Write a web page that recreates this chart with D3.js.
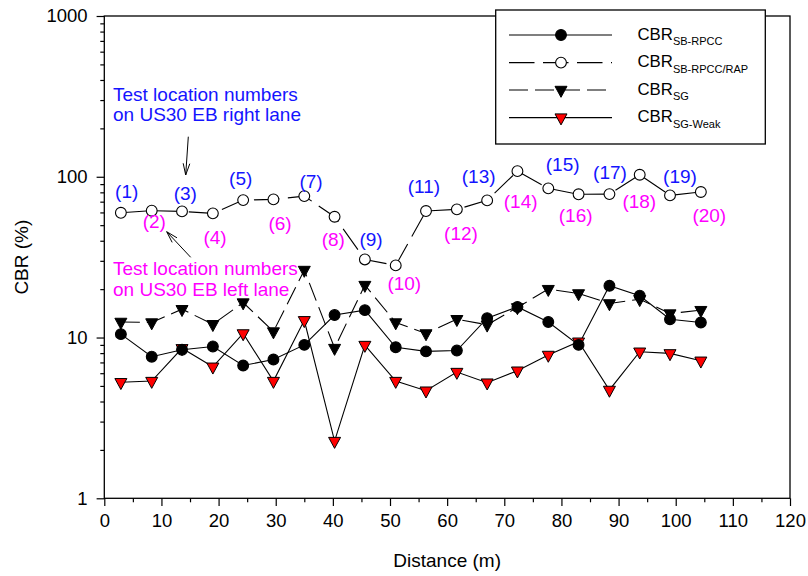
<!DOCTYPE html>
<html>
<head>
<meta charset="utf-8">
<script src="https://cdn.jsdelivr.net/npm/d3@7"></script>
<style>
  body { margin: 0; background: #fff; }
  svg { display: block; font-family: Arial, "Liberation Sans", sans-serif; }
</style>
</head>
<body>
<svg id="chart" width="808" height="576"></svg>
<script>
// ---------------- data ----------------
const distance = [2.9, 8.3, 13.6, 19.0, 24.3, 29.6, 35.0, 40.3, 45.6, 51.0,
                  56.3, 61.7, 67.0, 72.3, 77.7, 83.0, 88.4, 93.7, 99.0, 104.4];
const cbrSbRpcc    = [10.5, 7.6, 8.4, 8.8, 6.7, 7.3, 9.0, 13.8, 14.8, 8.7,
                      8.2, 8.3, 13.2, 15.5, 12.5, 9.0, 21.0, 18.2, 13.0, 12.4];
const cbrSbRpccRap = [59.7, 61.5, 60.9, 59.2, 71.6, 72.3, 75.8, 56.4, 30.6, 28.1,
                      61.2, 62.7, 71.3, 108.4, 84.7, 77.8, 78.0, 102.9, 76.6, 80.4];
const cbrSg        = [12.5, 12.4, 15.0, 12.1, 16.5, 10.9, 26.3, 8.6, 21.2, 12.4,
                      10.6, 13.0, 12.0, 15.4, 20.0, 18.8, 16.3, 17.3, 14.1, 14.8];
const cbrSgWeak    = [5.27, 5.36, 8.57, 6.58, 10.6, 5.36, 12.8, 2.27, 8.98, 5.36,
                      4.67, 6.10, 5.24, 6.22, 7.79, 9.42, 4.72, 8.16, 7.97, 7.17];
const xTicks = [0, 10, 20, 30, 40, 50, 60, 70, 80, 90, 100, 110, 120];
const yTicks = [1, 10, 100, 1000];
const locationLabels = ["(1)","(2)","(3)","(4)","(5)","(6)","(7)","(8)","(9)","(10)",
                        "(11)","(12)","(13)","(14)","(15)","(16)","(17)","(18)","(19)","(20)"];
const legendNames = ["SB-RPCC", "SB-RPCC/RAP", "SG", "SG-Weak"];

// ---------------- layout ----------------
const svg = d3.select("#chart");
const L = 104.3, R = 790, T = 16, B = 498.3;
const x = d3.scaleLinear().domain([0, 120]).range([L, R]);
const y = d3.scaleLog().domain([1, 1000]).range([B, T]);
const BLUE = "#1414ff", MAG = "#ff00ff";
const FS = 19, TFS = 18.5;
const FF = "Arial, 'Liberation Sans', sans-serif";

// axes
const minorX = d3.range(5, 120, 10);
const minorY = [];
[1, 10, 100].forEach(p => { for (let k = 2; k <= 9; k++) minorY.push(k * p); });

const gx = svg.append("g").attr("transform", `translate(0,${B})`)
  .call(d3.axisBottom(x).tickValues(xTicks).tickSize(7.7).tickPadding(8).tickFormat(d3.format("d")));
gx.select(".domain").remove();
gx.selectAll("text").attr("font-size", TFS).attr("font-family", FF).attr("fill", "#000");
gx.selectAll("line").attr("stroke", "#000").attr("stroke-width", 1.2);
const gxm = svg.append("g").attr("transform", `translate(0,${B})`)
  .call(d3.axisBottom(x).tickValues(minorX).tickSize(4).tickFormat(""));
gxm.select(".domain").remove();
gxm.selectAll("line").attr("stroke", "#000").attr("stroke-width", 1.2);

const gy = svg.append("g").attr("transform", `translate(${L},0)`)
  .call(d3.axisLeft(y).tickValues(yTicks).tickSize(7.7).tickPadding(9).tickFormat(d3.format("d")));
gy.select(".domain").remove();
gy.selectAll("text").attr("font-size", TFS).attr("font-family", FF).attr("fill", "#000");
gy.selectAll("line").attr("stroke", "#000").attr("stroke-width", 1.2);
const gym = svg.append("g").attr("transform", `translate(${L},0)`)
  .call(d3.axisLeft(y).tickValues(minorY).tickSize(4).tickFormat(""));
gym.select(".domain").remove();
gym.selectAll("line").attr("stroke", "#000").attr("stroke-width", 1.2);

// frame
svg.append("rect").attr("x", L).attr("y", T).attr("width", R - L).attr("height", B - T)
  .attr("fill", "none").attr("stroke", "#000").attr("stroke-width", 1.3);

// axis titles
svg.append("text").attr("x", (L + R) / 2).attr("y", 567).attr("text-anchor", "middle")
  .attr("font-size", FS).text("Distance (m)");
svg.append("text").attr("transform", `translate(28,${(T + B) / 2}) rotate(-90)`)
  .attr("text-anchor", "middle").attr("font-size", FS).text("CBR (%)");

// annotation texts (under data)
const ann1 = svg.append("text").attr("fill", BLUE).attr("font-size", FS);
ann1.append("tspan").attr("x", 113).attr("y", 100.8).text("Test location numbers");
ann1.append("tspan").attr("x", 113).attr("y", 121.3).text("on US30 EB right lane");
const ann2 = svg.append("text").attr("fill", MAG).attr("font-size", FS);
ann2.append("tspan").attr("x", 113).attr("y", 275).text("Test location numbers");
ann2.append("tspan").attr("x", 113).attr("y", 296).text("on US30 EB left lane");

// arrows
function arrow(x1, y1, x2, y2) {
  const g = svg.append("g").attr("stroke", "#000").attr("stroke-width", 1).attr("fill", "none");
  g.append("line").attr("x1", x1).attr("y1", y1).attr("x2", x2).attr("y2", y2);
  const a = Math.atan2(y2 - y1, x2 - x1), len = 12, spread = 0.28;
  [a + Math.PI - spread, a + Math.PI + spread].forEach(b => {
    g.append("line").attr("x1", x2).attr("y1", y2)
      .attr("x2", x2 + len * Math.cos(b)).attr("y2", y2 + len * Math.sin(b));
  });
}
arrow(188.3, 136.7, 185.7, 175);
arrow(190.7, 257.3, 166.7, 231.7);

// ---------------- series ----------------
const triDown = "M-6,-3.7L6,-3.7L0,7.3Z";
const series = [
  { data: cbrSbRpcc,    dash: null,        marker: "circle", fill: "#000" },
  { data: cbrSbRpccRap, dash: "25.5,8.5",  marker: "circle", fill: "#fff" },
  { data: cbrSg,        dash: "19,7",      marker: "tri",    fill: "#000" },
  { data: cbrSgWeak,    dash: null,        marker: "tri",    fill: "#ff0000" }
];
const line = d3.line().x(d => x(d[0])).y(d => y(d[1]));

[3, 2, 0, 1].forEach(i => {
  const s = series[i];
  const pts = distance.map((d, j) => [d, s.data[j]]);
  svg.append("path").attr("d", line(pts)).attr("fill", "none").attr("stroke", "#000")
    .attr("stroke-width", 1.1).attr("stroke-dasharray", s.dash);
});
function drawMarker(g, s, cx, cy) {
  if (s.marker === "circle") {
    g.append("circle").attr("cx", cx).attr("cy", cy).attr("r", 5.4)
      .attr("fill", s.fill).attr("stroke", "#000").attr("stroke-width", 1.1);
  } else {
    g.append("path").attr("d", triDown).attr("transform", `translate(${cx},${cy})`)
      .attr("fill", s.fill).attr("stroke", "#000").attr("stroke-width", 1);
  }
}
[3, 2, 0, 1].forEach(i => {
  const s = series[i];
  const g = svg.append("g");
  distance.forEach((d, j) => drawMarker(g, s, x(d), y(s.data[j])));
});

// location labels
const labelPos = [
  [126.7, 190.7], [154.3, 221], [185.3, 193.3], [215, 236.7], [240.7, 178.3],
  [280, 223.3], [311, 181], [333.3, 239], [371, 239.3], [404.3, 282.7],
  [424, 186], [461, 233.3], [478.7, 175.7], [520.7, 200.7], [562.7, 164],
  [575.7, 215], [610, 171.7], [639.3, 201], [680, 176], [709.3, 215]
];
locationLabels.forEach((t, j) => {
  svg.append("text").attr("x", labelPos[j][0]).attr("y", labelPos[j][1] + 6.8)
    .attr("text-anchor", "middle").attr("font-size", FS)
    .attr("fill", j % 2 === 0 ? BLUE : MAG).text(t);
});

// ---------------- legend ----------------
const lg = svg.append("g");
lg.append("rect").attr("x", 495.7).attr("y", 10).attr("width", 269.6).attr("height", 134)
  .attr("fill", "#fff").attr("stroke", "#000").attr("stroke-width", 1.3);
const rowY = [35, 62.6, 90, 117.6];
series.forEach((s, i) => {
  lg.append("line").attr("x1", 509).attr("x2", 612).attr("y1", rowY[i]).attr("y2", rowY[i])
    .attr("stroke", "#000").attr("stroke-width", 1.1).attr("stroke-dasharray", s.dash);
  drawMarker(lg, s, 561, rowY[i]);
  const t = lg.append("text").attr("x", 637.5).attr("y", rowY[i] + 4.5).attr("font-size", 16.8);
  t.append("tspan").text("CBR");
  t.append("tspan").attr("dy", 5.5).attr("font-size", 11).text(legendNames[i]);
});
</script>
</body>
</html>
